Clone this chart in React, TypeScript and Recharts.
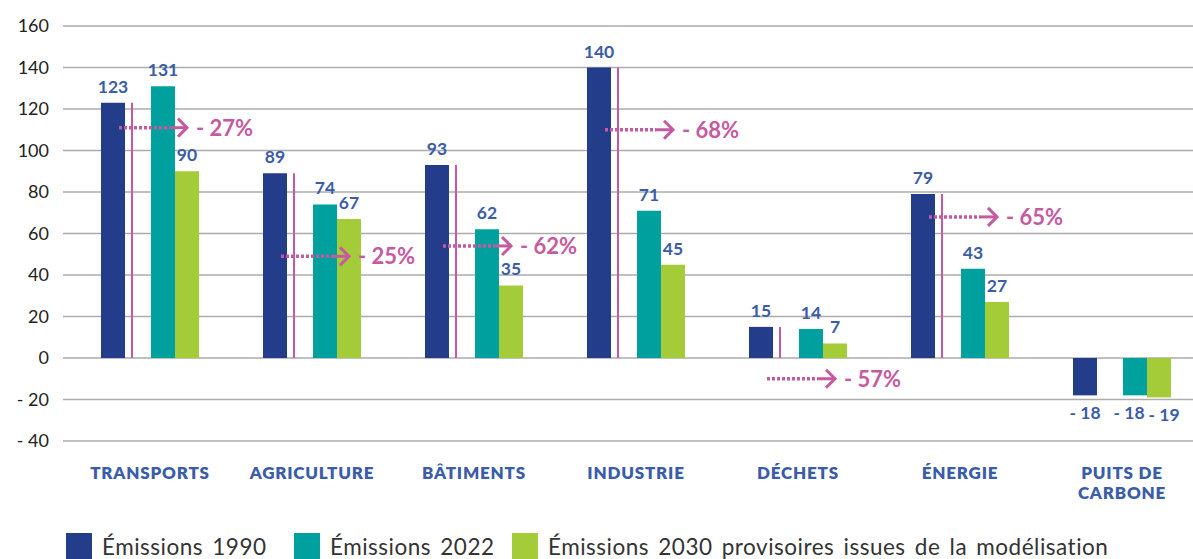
import React from "react"
import { BarChart, Bar, XAxis, YAxis, CartesianGrid, LabelList } from "recharts"

// categories (\n = line break in the axis label)
const categories = [
  "TRANSPORTS",
  "AGRICULTURE",
  "BÂTIMENTS",
  "INDUSTRIE",
  "DÉCHETS",
  "ÉNERGIE",
  "PUITS DE\nCARBONE",
]
const emissions1990 = [123, 89, 93, 140, 15, 79, -18]
const emissions2022 = [131, 74, 62, 71, 14, 43, -18]
const emissions2030 = [90, 67, 35, 45, 7, 27, -19]
// reduction 1990 -> 2030 (%) and the level (in MtCO2e) where its arrow sits
const reductions = [27, 25, 62, 68, 57, 65, null]
const arrowLevels = [111, 49, 54, 110, -10, 68, null]
const yTicks = [-40, -20, 0, 20, 40, 60, 80, 100, 120, 140, 160]

const NAVY = "#243d8a"
const TEAL = "#00a09e"
const LIME = "#a4cc39"
const PINK = "#c65aa1"
const LABEL_BLUE = "#3a5ca9"
const GRID = "#ababab"
const FONT = "Lato, 'Open Sans', sans-serif"

const BAR = 24
const GAP = 26

const data = categories.map((name, i) => ({
  name,
  e1990: emissions1990[i],
  gap: null,
  e2022: emissions2022[i],
  e2030: emissions2030[i],
  annot: reductions[i] == null ? null : emissions1990[i],
  pct: reductions[i],
  level: arrowLevels[i],
}))

function fmt(v: number) {
  return v < 0 ? `- ${Math.abs(v)}` : `${v}`
}

function ValueLabel(props: any) {
  const { x, y, width, height, value, negShift = 0 } = props
  if (value == null) return null
  const top = Math.min(y, y + height)
  const bottom = Math.max(y, y + height)
  const ty = value >= 0 ? top - 10 : bottom + 24
  const dx = value >= 0 ? 0 : negShift
  return (
    <text
      x={x + width / 2 + dx}
      y={ty}
      textAnchor="middle"
      fill={LABEL_BLUE}
      fontFamily={FONT}
      fontWeight={700}
      fontSize={17.5}
    >
      {fmt(value)}
    </text>
  )
}

function CategoryTick(props: any) {
  const { x, y, payload } = props
  const lines = String(payload.value).split("\n")
  return (
    <g>
      {lines.map((l: string, k: number) => (
        <text
          key={k}
          x={x}
          y={y + 30 + k * 20}
          textAnchor="middle"
          fill={LABEL_BLUE}
          fontFamily={FONT}
          fontWeight={800}
          fontSize={17}
          letterSpacing={0.8}
        >
          {l}
        </text>
      ))}
    </g>
  )
}

// drawn in the last (1px) slot so it sits above every bar
function Annotation(props: any) {
  const { x, y, height, payload } = props
  if (payload.pct == null) return null
  const zeroY = y + height
  const lineX = x - 67
  const ay = zeroY - (payload.level / payload.annot) * height
  return (
    <g>
      <line x1={lineX} x2={lineX} y1={zeroY} y2={y} stroke={PINK} strokeWidth={2} />
      <line
        x1={lineX - 13}
        x2={lineX + 38}
        y1={ay}
        y2={ay}
        stroke={PINK}
        strokeWidth={3.5}
        strokeDasharray="3 2"
      />
      <line x1={lineX + 38} x2={lineX + 55} y1={ay} y2={ay} stroke={PINK} strokeWidth={3} />
      <polyline
        points={`${lineX + 46},${ay - 9} ${lineX + 55},${ay} ${lineX + 46},${ay + 9}`}
        fill="none"
        stroke={PINK}
        strokeWidth={3}
      />
      <text
        x={lineX + 64}
        y={ay + 8}
        fill={PINK}
        fontFamily={FONT}
        fontWeight={700}
        fontSize={22}
      >
        {`- ${payload.pct}%`}
      </text>
    </g>
  )
}

const legendItems = [
  { color: NAVY, label: "Émissions 1990", left: 66 },
  { color: TEAL, label: "Émissions 2022", left: 294 },
  { color: LIME, label: "Émissions 2030 provisoires issues de la modélisation", left: 512 },
]

export default function App() {
  return (
    <div
      style={{
        position: "absolute",
        left: 0,
        top: 0,
        width: 1193,
        height: 559,
        overflow: "hidden",
        background: "#fff",
      }}
    >
      <BarChart
        width={1193}
        height={559}
        data={data}
        barGap={0}
        margin={{ top: 26, right: -10, bottom: 78, left: 0 }}
      >
        <CartesianGrid vertical={false} stroke={GRID} strokeWidth={1.5} />
        <XAxis
          dataKey="name"
          axisLine={false}
          tickLine={false}
          height={40}
          interval={0}
          tick={<CategoryTick />}
        />
        <YAxis
          width={69}
          domain={[-40, 160]}
          ticks={yTicks}
          axisLine={false}
          tickLine={{ stroke: GRID, strokeWidth: 1.5 }}
          tickSize={6}
          tickMargin={14}
          tickFormatter={fmt}
          tick={{ fill: "#222", fontFamily: FONT, fontSize: 18 }}
        />
        <Bar dataKey="e1990" fill={NAVY} barSize={BAR} isAnimationActive={false}>
          <LabelList dataKey="e1990" content={<ValueLabel />} />
        </Bar>
        <Bar dataKey="gap" fill="none" barSize={GAP} isAnimationActive={false} />
        <Bar dataKey="e2022" fill={TEAL} barSize={BAR} isAnimationActive={false}>
          <LabelList dataKey="e2022" content={<ValueLabel negShift={-6} />} />
        </Bar>
        <Bar dataKey="e2030" fill={LIME} barSize={BAR} isAnimationActive={false}>
          <LabelList dataKey="e2030" content={<ValueLabel negShift={5} />} />
        </Bar>
        <Bar dataKey="annot" barSize={1} shape={<Annotation />} isAnimationActive={false} />
      </BarChart>

      {/* LEGEND */}
      {legendItems.map((it) => (
        <div
          key={it.label}
          style={{
            position: "absolute",
            left: it.left,
            top: 533,
            height: 26,
            display: "flex",
            alignItems: "center",
            fontFamily: FONT,
            fontSize: 22.5,
            letterSpacing: 0.5,
            wordSpacing: 3,
            color: "#333",
            whiteSpace: "nowrap",
          }}
        >
          <span style={{ width: 26, height: 26, background: it.color, marginRight: 10 }} />
          {it.label}
        </div>
      ))}
    </div>
  )
}
